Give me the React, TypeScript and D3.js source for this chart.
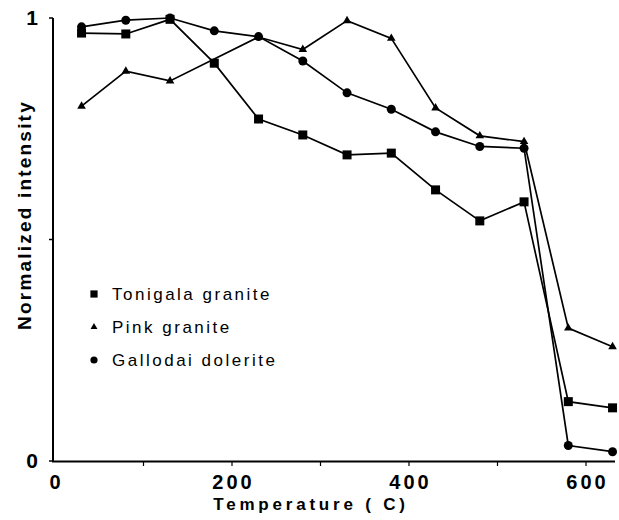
import React from "react";
import * as d3 from "d3";

const temps = [30, 80, 130, 180, 230, 280, 330, 380, 430, 480, 530, 580, 630];
const tonigala = [0.966, 0.964, 0.997, 0.898, 0.772, 0.736, 0.691, 0.695, 0.612, 0.542, 0.585, 0.134, 0.12];
const pink = [0.801, 0.88, 0.858, null, 0.957, 0.929, 0.994, 0.954, 0.797, 0.734, 0.721, 0.3, 0.258];
const gallodai = [0.98, 0.995, 1.0, 0.971, 0.958, 0.903, 0.831, 0.794, 0.743, 0.71, 0.706, 0.035, 0.021];
const xTicks = [0, 200, 400, 600];
const xMinor = [100, 300, 500];
const yTicks = [0, 1];
const yMinor = [0.5];
const legendNames = ["Tonigala granite", "Pink granite", "Gallodai dolerite"];

const W = 619;
const H = 520;
const font = "'Liberation Sans', Arial, sans-serif";

export default function App() {
  const x = d3.scaleLinear().domain([0, 600]).range([55, 586]);
  const y = d3.scaleLinear().domain([0, 1]).range([461, 18]);
  const line = d3
    .line<[number, number | null]>()
    .defined((d) => d[1] != null)
    .x((d) => x(d[0]))
    .y((d) => y(d[1] as number));

  const series = [
    { name: legendNames[0], vals: tonigala, shape: "square" },
    { name: legendNames[1], vals: pink, shape: "triangle" },
    { name: legendNames[2], vals: gallodai, shape: "circle" },
  ];

  const marker = (shape: string, cx: number, cy: number, key: string, s = 1) => {
    if (shape === "square")
      return <rect key={key} x={cx - 4.5 * s} y={cy - 4.5 * s} width={9 * s} height={9 * s} fill="#000" />;
    if (shape === "circle") return <circle key={key} cx={cx} cy={cy} r={4.5 * s} fill="#000" />;
    const sym = d3.symbol().type(d3.symbolTriangle).size(32 * s * s)();
    return <path key={key} d={sym as string} transform={`translate(${cx},${cy})`} fill="#000" />;
  };

  return (
    <svg width={W} height={H} style={{ display: "block", position: "absolute", left: 0, top: 0, background: "#fff" }}>
      {/* axes */}
      <line x1={53} y1={18} x2={53} y2={462} stroke="#000" strokeWidth={2} />
      <line x1={52} y1={461.5} x2={615} y2={461.5} stroke="#000" strokeWidth={2.2} />
      {xMinor.concat(xTicks.slice(1)).map((t) => (
        <line key={"xt" + t} x1={x(t)} x2={x(t)} y1={461} y2={466} stroke="#000" strokeWidth={1.2} />
      ))}
      {yTicks.concat(yMinor).map((t) => (
        <line key={"yt" + t} x1={49} x2={53} y1={y(t)} y2={y(t)} stroke="#000" strokeWidth={1.5} />
      ))}
      {xTicks.map((t) => (
        <text key={"xl" + t} x={x(t) + 1.5} y={489} textAnchor="middle" fontFamily={font} fontWeight="bold" fontSize={20} letterSpacing={3}>
          {t}
        </text>
      ))}
      {yTicks.map((t) => (
        <text key={"yl" + t} x={38} y={y(t) + 7} textAnchor="end" fontFamily={font} fontWeight="bold" fontSize={21}>
          {t}
        </text>
      ))}
      <text x={311} y={510} textAnchor="middle" fontFamily={font} fontWeight="bold" fontSize={17} letterSpacing={3.8}>
        Temperature ( C)
      </text>
      <text
        transform="translate(31,215) rotate(-90)"
        textAnchor="middle"
        fontFamily={font}
        fontWeight="bold"
        fontSize={19}
        letterSpacing={2.2}
      >
        Normalized intensity
      </text>

      {/* series */}
      {series.map((s) => {
        const pts = temps.map((t, i) => [t, s.vals[i]] as [number, number | null]);
        return (
          <g key={s.name}>
            <path d={line(pts.filter((p) => p[1] != null)) as string} fill="none" stroke="#000" strokeWidth={1.7} />
            {pts
              .filter((p) => p[1] != null)
              .map((p, i) => marker(s.shape, x(p[0]), y(p[1] as number), s.name + i))}
          </g>
        );
      })}

      {/* legend */}
      {series.map((s, i) => (
        <g key={"lg" + s.name}>
          {marker(s.shape, 94, 294 + i * 33, "lm" + i, 0.8)}
          <text x={112} y={300 + i * 33} fontFamily={font} fontSize={17} letterSpacing={2.5}>
            {s.name}
          </text>
        </g>
      ))}
    </svg>
  );
}
